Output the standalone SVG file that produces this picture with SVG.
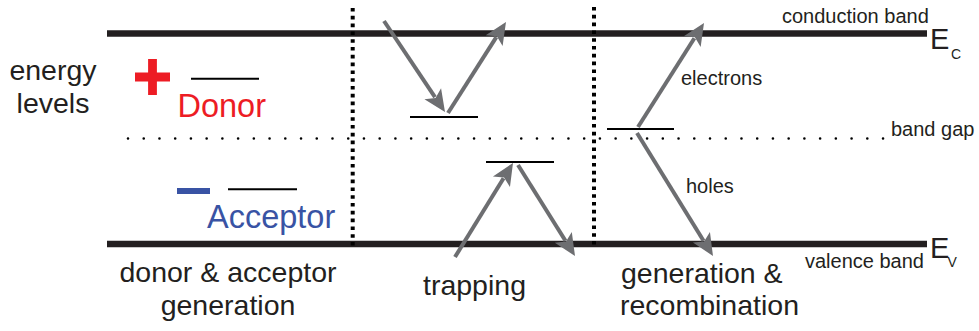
<svg xmlns="http://www.w3.org/2000/svg" width="979" height="331" viewBox="0 0 979 331">
  <style>
    text { font-family: "Liberation Sans", Arial, sans-serif; fill: #231f20; }
    .big { font-size: 28.5px; }
    .small { font-size: 20px; }
    .band { stroke: #231f20; stroke-width: 6.5; fill: none; }
    .level { stroke: #000; stroke-width: 2; fill: none; }
    .vdots { stroke: #000; stroke-width: 4; stroke-dasharray: 3.6 4.2; fill: none; }
    .hdots { stroke: #000; stroke-width: 2.6; stroke-linecap: round; stroke-dasharray: 0 15.73; fill: none; }
    .arrow { stroke: #6d6e71; stroke-width: 4; fill: none; marker-end: url(#head); }
  </style>
  <defs>
    <marker id="head" markerUnits="userSpaceOnUse" orient="auto" refX="0" refY="0" markerWidth="40" markerHeight="40" overflow="visible">
      <path d="M18,0 L-4,-10 L1,0 L-4,10 Z" fill="#6d6e71"/>
    </marker>
  </defs>

  <rect width="979" height="331" fill="#fff"/>

  <!-- bands and band gap -->
  <g id="conduction-band">
    <line class="band" x1="107" y1="33.5" x2="927" y2="33.5"/>
    <text class="small" x="782" y="22.7">conduction band</text>
    <text x="930" y="49" style="font-size:29px">E</text>
    <text x="951" y="59" style="font-size:14px">C</text>
  </g>
  <g id="valence-band">
    <line class="band" x1="107" y1="244" x2="927" y2="244"/>
    <text class="small" x="805" y="268">valence band</text>
    <text x="930" y="258" style="font-size:29px">E</text>
    <text x="947.5" y="267" style="font-size:14px">V</text>
  </g>
  <g id="band-gap">
    <line class="hdots" x1="128" y1="138.5" x2="884" y2="138.5"/>
    <text class="small" x="891" y="136">band gap</text>
  </g>

  <!-- column separators -->
  <g id="separators">
    <line class="vdots" x1="352.7" y1="8" x2="352.7" y2="247"/>
    <line class="vdots" x1="594" y1="7" x2="594" y2="245"/>
  </g>

  <!-- left column -->
  <g id="energy-levels">
    <text class="big" x="53" y="80" text-anchor="middle">energy</text>
    <text class="big" x="53" y="113" text-anchor="middle">levels</text>
  </g>
  <g id="donor">
    <path d="M135,77 H170 M152.5,59 V95" stroke="#ed1c24" stroke-width="8.8" fill="none"/>
    <line class="level" x1="191" y1="78.7" x2="259" y2="78.7"/>
    <text x="177.5" y="117" style="font-size:32.5px; fill:#ed1c24">Donor</text>
  </g>
  <g id="acceptor">
    <rect x="177" y="188" width="33" height="6" fill="#3953a4"/>
    <line class="level" x1="228" y1="189.3" x2="297" y2="189.3"/>
    <text x="207" y="228" style="font-size:32.5px; fill:#3953a4">Acceptor</text>
  </g>
  <g id="donor-acceptor-label">
    <text class="big" x="228" y="282" text-anchor="middle">donor &amp; acceptor</text>
    <text class="big" x="228" y="315" text-anchor="middle">generation</text>
  </g>

  <!-- middle column -->
  <g id="trap-upper">
    <line class="level" x1="410" y1="117" x2="478" y2="117"/>
  </g>
  <g id="trap-lower">
    <line class="level" x1="486" y1="162" x2="554" y2="162"/>
  </g>
  <g id="trapping-label">
    <text class="big" x="474.5" y="295" text-anchor="middle">trapping</text>
  </g>

  <!-- right column -->
  <g id="midgap-level">
    <line class="level" x1="607" y1="129" x2="674" y2="129"/>
    <text class="small" x="681" y="85">electrons</text>
    <text class="small" x="686" y="193">holes</text>
  </g>
  <g id="generation-label">
    <text class="big" x="621" y="283">generation &amp;</text>
    <text class="big" x="620" y="315">recombination</text>
  </g>

  <!-- transitions -->
  <g id="connectors">
    <line class="arrow" x1="384" y1="21" x2="434.98" y2="97.05"/>
    <line class="arrow" x1="448" y1="113" x2="496.32" y2="37.18"/>
    <line class="arrow" x1="455" y1="257" x2="503.55" y2="178.32"/>
    <line class="arrow" x1="518" y1="165" x2="565.45" y2="240.75"/>
    <line class="arrow" x1="638" y1="127" x2="694.36" y2="38.2"/>
    <line class="arrow" x1="637" y1="133" x2="703.54" y2="240.69"/>
  </g>
</svg>
